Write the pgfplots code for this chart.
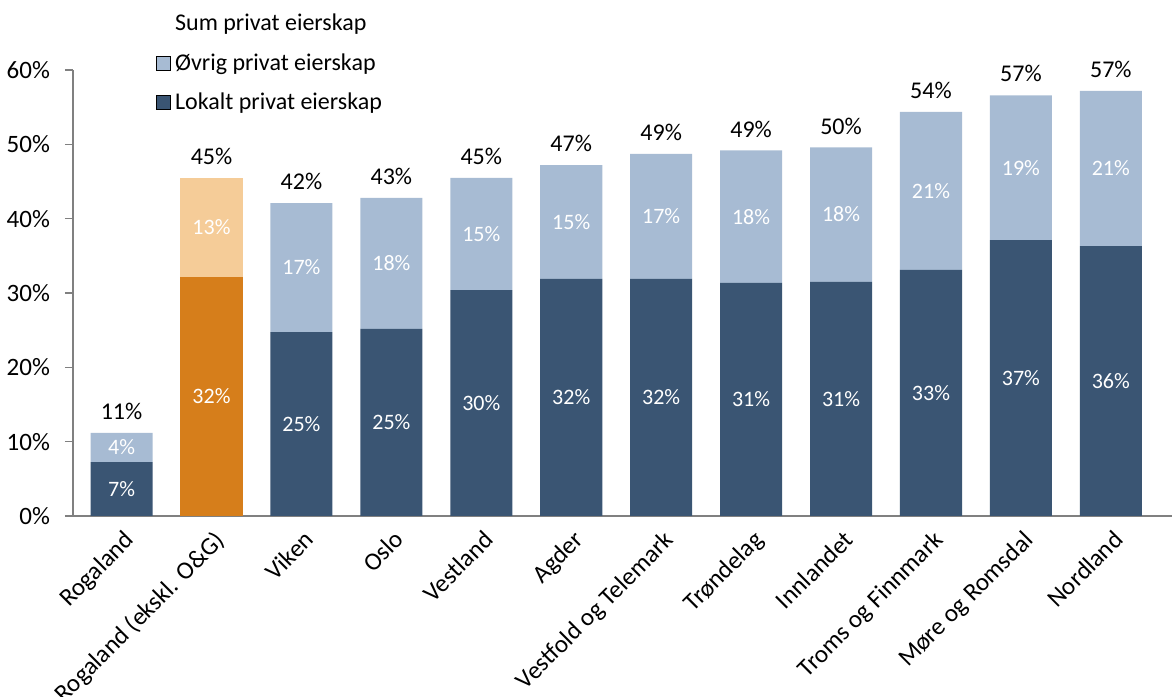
\documentclass[border=0pt]{standalone}
\usepackage{pgfplots}
\pgfplotsset{compat=1.18}
\usepackage{pgfplotstable}
\usepackage{fontspec}
\setmainfont{Carlito}
\definecolor{dark}{HTML}{3A5573}
\definecolor{light}{HTML}{A7BBD3}
\definecolor{orng}{HTML}{D67E1B}
\definecolor{lorng}{HTML}{F5CC98}
\definecolor{axgray}{HTML}{808080}
\pgfplotstableread{
x lo lolab hi hilab olo ololab ohi ohilab tot totlab
0  7.26 7\%  3.91 4\%  0 {} 0 {} 11.17 11\%
1  0 {}  0 {}  32.15 32\% 13.32 13\% 45.47 45\%
2  24.75 25\% 17.35 17\% 0 {} 0 {} 42.1 42\%
3  25.16 25\% 17.62 18\% 0 {} 0 {} 42.78 43\%
4  30.4 30\% 15.07 15\% 0 {} 0 {} 45.47 45\%
5  31.9 32\% 15.3 15\% 0 {} 0 {} 47.2 47\%
6  31.9 32\% 16.8 17\% 0 {} 0 {} 48.7 49\%
7  31.35 31\% 17.85 18\% 0 {} 0 {} 49.2 49\%
8  31.5 31\% 18.1 18\% 0 {} 0 {} 49.6 50\%
9  33.1 33\% 21.25 21\% 0 {} 0 {} 54.35 54\%
10 37.1 37\% 19.5 19\% 0 {} 0 {} 56.6 57\%
11 36.3 36\% 20.9 21\% 0 {} 0 {} 57.2 57\%
}\data
\pgfplotsset{common/.style={
  scale only axis,
  width=549.5pt, height=223pt,
  bar width=0.69,
  xmin=-0.54, xmax=11.68,
  ymin=0, ymax=60,
  clip=false,
  point meta=explicit symbolic,
  nodes near coords,
}}
\begin{document}
\begin{tikzpicture}
\begin{axis}[
  ybar stacked,
  common,
  ytick={0,10,...,60},
  yticklabel={\pgfmathprintnumber{\tick}\%},
  /pgf/number format/assume math mode=true,
  xtick=data,
  xticklabels={Rogaland,Rogaland (ekskl. O\&G),Viken,Oslo,Vestland,Agder,Vestfold og Telemark,Trøndelag,Innlandet,Troms og Finnmark,Møre og Romsdal,Nordland},
  x tick label style={rotate=45, anchor=north east, inner sep=1pt, yshift=-4pt, xshift=-3pt, font=\fontsize{12.5}{14}\selectfont},
  major x tick style={draw=none},
  y tick style={axgray, line width=0.8pt},
  ytick align=outside, tick pos=left, major tick length=4pt,
  axis x line*=bottom, axis y line*=left,
  axis line style={axgray, line width=0.8pt, -},
  tick label style={font=\fontsize{12.5}{14}\selectfont, text=black},
  y tick label style={xshift=-4pt},
  every node near coord/.append style={font=\fontsize{11}{13}\selectfont, text=white, anchor=center},
  legend style={at={(0.07,1.145)}, anchor=north west, draw=none, fill=none,
    font=\fontsize{12}{14}\selectfont, row sep=6pt,
    legend cell align=left},
  legend image code/.code={\fill[#1] (0pt,-3.5pt) rectangle (7pt,3.5pt);},
]
\addlegendimage{empty legend}
\addlegendentry{Sum privat eierskap}
\addlegendimage{fill=light}
\addlegendentry{Øvrig privat eierskap}
\addlegendimage{fill=dark}
\addlegendentry{Lokalt privat eierskap}
\coordinate (ll) at (rel axis cs:0,0);
\coordinate (ur) at (rel axis cs:1,1);
\addplot+[forget plot, fill=dark, draw=none] table[x=x, y=lo, meta=lolab] {\data};
\addplot+[forget plot, fill=orng, draw=none] table[x=x, y=olo, meta=ololab] {\data};
\addplot+[forget plot, fill=light, draw=none] table[x=x, y=hi, meta=hilab] {\data};
\addplot+[forget plot, fill=lorng, draw=none] table[x=x, y=ohi, meta=ohilab] {\data};
\end{axis}
\begin{axis}[
  common, ybar, hide axis,
  every node near coord/.append style={font=\fontsize{12}{14}\selectfont, text=black, anchor=south, yshift=3pt},
]
\addplot+[fill=none, draw=none, bar shift=0pt] table[x=x, y=tot, meta=totlab] {\data};
\end{axis}
\pgfresetboundingbox
\path ([shift={(-36.5pt,-90.5pt)}]ll) rectangle ([shift={(1.5pt,35pt)}]ur);
\end{tikzpicture}
\end{document}
